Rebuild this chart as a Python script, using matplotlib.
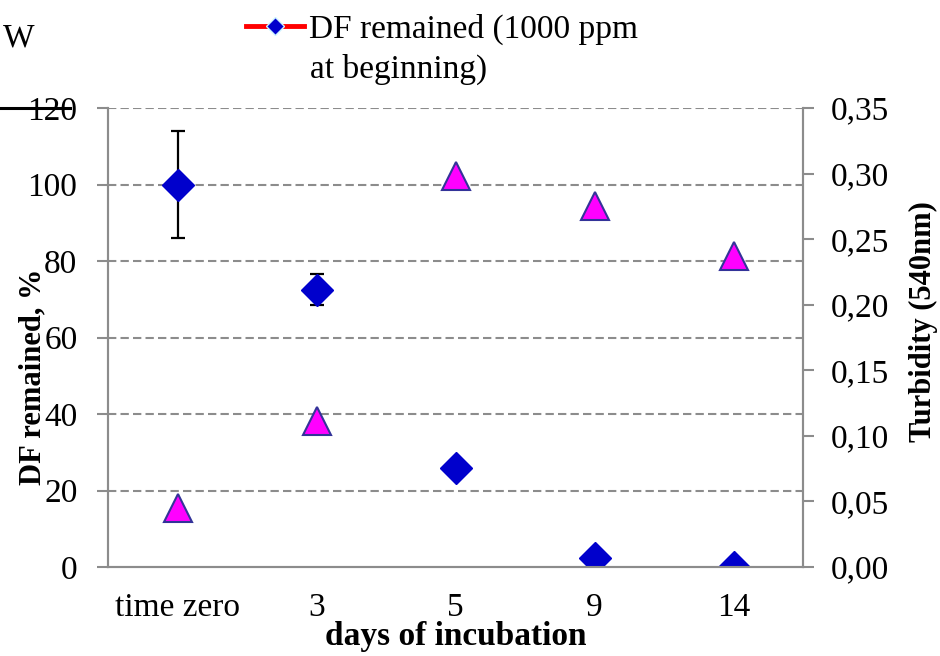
import matplotlib
matplotlib.use("Agg")
import matplotlib.pyplot as plt
from matplotlib.lines import Line2D

plt.rcParams['font.family'] = ['Liberation Serif', 'DejaVu Serif']

days = ['time zero', '3', '5', '9', '14']
df_remained = [100, 72.5, 25.8, 2.4, 0]
df_err = [14, 4, 0, 0, 0]
turbidity = [0.045, 0.111, 0.298, 0.275, 0.237]

GRID = '#8c8c8c'


def main():
    fig = plt.figure(figsize=(9.4, 6.56), dpi=100)
    ax = fig.add_axes([108 / 940, 1 - 567 / 656, 695 / 940, 459 / 656])
    ax2 = ax.twinx()

    x = list(range(len(days)))

    ax.errorbar(x, df_remained, yerr=df_err, fmt='none', ecolor='black',
                elinewidth=1.6, capsize=5, capthick=1.6, zorder=3)
    ax.plot(x, df_remained, ls='none', marker='D', ms=16.5, mfc='#0000CC', mec='#0000CC',
            mew=1, zorder=4)
    ax2.plot(x, turbidity, ls='none', marker='^', ms=20, mfc='#FF00FF', mec='#333399',
             mew=1.5, zorder=3)

    ax.set_xlim(-0.5, len(days) - 0.5)
    ax.set_ylim(0, 120)
    ax.set_yticks([0, 20, 40, 60, 80, 100, 120])
    ax2.set_ylim(0, 0.35)
    ax2.set_yticks([0, 0.05, 0.10, 0.15, 0.20, 0.25, 0.30, 0.35])
    ax2.set_yticklabels([f'{v:.2f}'.replace('.', ',') for v in ax2.get_yticks()])

    ax.set_xticks(x)
    ax.set_xticklabels(days)
    ax.tick_params(axis='x', length=0, pad=18, labelsize=24)
    ax.tick_params(axis='y', length=8, width=1.5, color=GRID, pad=14, labelsize=24)
    ax2.tick_params(axis='y', length=8, width=1.5, color=GRID, pad=12, labelsize=24)

    for a in (ax, ax2):
        a.spines['top'].set_visible(False)
        for s in ('left', 'right', 'bottom'):
            a.spines[s].set_color(GRID)
            a.spines[s].set_linewidth(1.5)

    ax.set_axisbelow(True)
    ax.yaxis.grid(True, ls=(0, (4, 2)), color=GRID, lw=1.5)
    ax.get_ygridlines()[0].set_visible(False)

    ax.set_xlabel('days of incubation', fontsize=24, fontweight='bold', labelpad=-1)
    fig.text(33 / 940, 1 - 377 / 656, 'DF remained, %', rotation=90, fontsize=22,
             fontweight='bold', ha='center', va='center')
    fig.text(923 / 940, 1 - 322 / 656, 'Turbidity (540nm)', rotation=90, fontsize=22,
             fontweight='bold', ha='center', va='center')

    # legend
    handle = Line2D([], [], color='red', lw=3.5, marker='D', ms=9, mfc='#0000CC',
                    mec='#CCF2FF', mew=1)
    fig.legend(handles=[handle], labels=['DF remained (1000 ppm'], loc='center left',
               bbox_to_anchor=(246 / 940, 1 - 29 / 656), frameon=False, fontsize=24,
               handlelength=1.75, handletextpad=0.15, borderpad=0, borderaxespad=0)
    fig.text(310 / 940, 1 - 69 / 656, 'at beginning)', fontsize=24, ha='left', va='center')

    # cut-off legend entry at top left
    fig.text(3 / 940, 1 - 38 / 656, 'W', fontsize=24, ha='left', va='center')
    fig.add_artist(Line2D([0, 70 / 940], [1 - 108 / 656, 1 - 108 / 656], color='black',
                          lw=2.2, transform=fig.transFigure))

    fig.savefig('out.png', dpi=100)


if __name__ == '__main__':
    main()
